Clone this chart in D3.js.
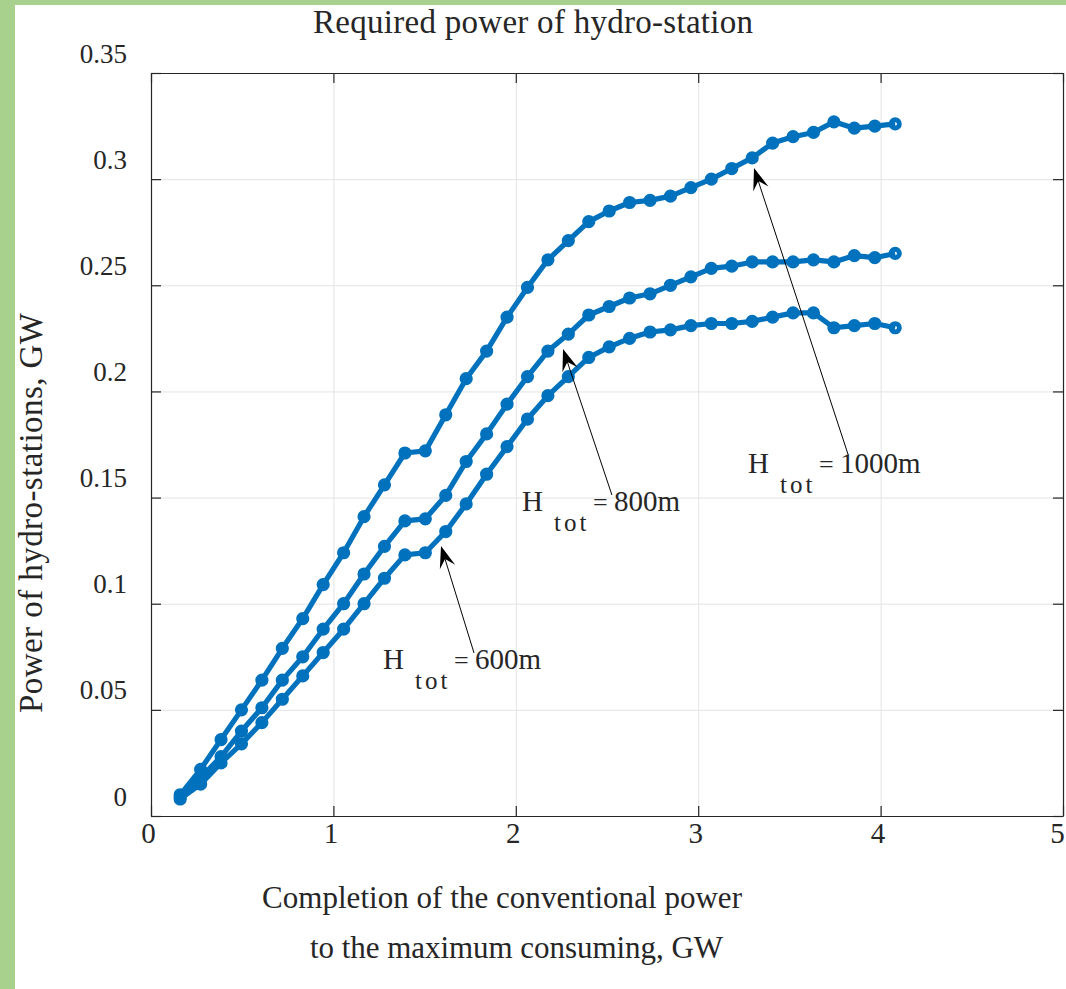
<!DOCTYPE html>
<html>
<head>
<meta charset="utf-8">
<script src="https://cdn.jsdelivr.net/npm/d3@7"></script>
<style>
  html, body { margin: 0; padding: 0; background: #fff; }
  svg { display: block; }
  text { font-family: "Liberation Serif", "Times New Roman", serif; fill: #262626; }
</style>
</head>
<body>
<div id="chart"></div>
<script>
// Required power of hydro-station – three head variants

const xValues = [0.16, 0.272, 0.384, 0.496, 0.608, 0.72, 0.832, 0.944, 1.056, 1.168, 1.28, 1.392,
  1.504, 1.616, 1.728, 1.84, 1.952, 2.064, 2.176, 2.288, 2.4, 2.512, 2.624, 2.736,
  2.848, 2.96, 3.072, 3.184, 3.296, 3.408, 3.52, 3.632, 3.744, 3.856, 3.968, 4.08];

const power1000 = [0.010, 0.022, 0.036, 0.050, 0.064, 0.079, 0.093, 0.109, 0.124, 0.141, 0.156, 0.171,
  0.172, 0.189, 0.206, 0.219, 0.235, 0.249, 0.262, 0.271, 0.280, 0.285, 0.289, 0.290,
  0.292, 0.296, 0.300, 0.305, 0.310, 0.317, 0.320, 0.322, 0.327, 0.324, 0.325, 0.326];

const power800 = [0.009, 0.018, 0.028, 0.040, 0.051, 0.064, 0.075, 0.088, 0.100, 0.114, 0.127, 0.139,
  0.140, 0.151, 0.167, 0.180, 0.194, 0.207, 0.219, 0.227, 0.236, 0.240, 0.244, 0.246,
  0.250, 0.254, 0.258, 0.259, 0.261, 0.261, 0.261, 0.262, 0.261, 0.264, 0.263, 0.265];

const power600 = [0.008, 0.015, 0.025, 0.034, 0.044, 0.055, 0.066, 0.077, 0.088, 0.100, 0.112, 0.123,
  0.124, 0.134, 0.147, 0.161, 0.174, 0.187, 0.198, 0.207, 0.216, 0.221, 0.225, 0.228,
  0.229, 0.231, 0.232, 0.232, 0.233, 0.235, 0.237, 0.237, 0.230, 0.231, 0.232, 0.230];

const xTicks = [0, 1, 2, 3, 4, 5];
const xTickLabels = ['0', '1', '2', '3', '4', '5'];
const yTicks = [0, 0.05, 0.1, 0.15, 0.2, 0.25, 0.3, 0.35];
const yTickLabels = ['0', '0.05', '0.1', '0.15', '0.2', '0.25', '0.3', '0.35'];

// annotation: label value, text anchor (data units), arrow tail and head (data units)
const noteLabels = ['600m', '800m', '1000m'];
const noteText = [[1.272, 0.0692], [2.034, 0.1437], [3.273, 0.1616]];
const noteTail = [[1.771, 0.0768], [2.527, 0.1512], [3.821, 0.1705]];
const noteHead = [[1.590, 0.1272], [2.259, 0.2200], [3.306, 0.3052]];

const W = 1066, H = 989;
const plot = { left: 151, right: 1063, top: 73, bottom: 816 };
const blue = '#0072BD';
const axisColor = '#262626';

const svg = d3.select('#chart').append('svg')
  .attr('width', W)
  .attr('height', H);

// page frame (green strips on top and left)
svg.append('rect').attr('x', 0).attr('y', 0).attr('width', W).attr('height', H).attr('fill', '#fff');
svg.append('rect').attr('x', 0).attr('y', 0).attr('width', W).attr('height', 5).attr('fill', '#a9d18e');
svg.append('rect').attr('x', 0).attr('y', 0).attr('width', 15).attr('height', H).attr('fill', '#a9d18e');

const x = d3.scaleLinear().domain([0, 5]).range([plot.left, plot.right]);
const y = d3.scaleLinear().domain([0, 0.35]).range([plot.bottom, plot.top]);
const plotW = plot.right - plot.left;
const plotH = plot.bottom - plot.top;

// Grid
const grid = svg.append('g').attr('class', 'grid');
grid.append('g')
  .attr('transform', `translate(0,${plot.bottom})`)
  .call(d3.axisBottom(x).tickValues(xTicks.slice(1, -1)).tickSize(-plotH).tickFormat(''))
  .call(g => g.select('.domain').remove());
grid.append('g')
  .attr('transform', `translate(${plot.left},0)`)
  .call(d3.axisLeft(y).tickValues(yTicks.slice(1, -1)).tickSize(-plotW).tickFormat(''))
  .call(g => g.select('.domain').remove());
grid.selectAll('line').attr('stroke', '#e3e3e3').attr('stroke-width', 1);

// Axes (box with inward ticks on all four sides)
const xAxis = svg.append('g')
  .attr('transform', `translate(0,${plot.bottom})`)
  .call(d3.axisBottom(x).tickValues(xTicks).tickSizeInner(-10).tickSizeOuter(0).tickPadding(0)
    .tickFormat((d, i) => xTickLabels[i]));
xAxis.selectAll('text')
  .attr('y', 27).attr('dy', 0)
  .attr('dx', (d, i) => i === xTicks.length - 1 ? -6 : -3)
  .style('font-size', '29px').style('font-family', '"Liberation Serif", serif').attr('fill', axisColor);

const yAxis = svg.append('g')
  .attr('transform', `translate(${plot.left},0)`)
  .call(d3.axisLeft(y).tickValues(yTicks).tickSizeInner(-10).tickSizeOuter(0).tickPadding(24)
    .tickFormat((d, i) => yTickLabels[i]));
yAxis.selectAll('text')
  .attr('dy', 0).attr('y', -11)
  .style('font-size', '27px').style('font-family', '"Liberation Serif", serif').attr('fill', axisColor);

svg.append('g')
  .attr('transform', `translate(0,${plot.top})`)
  .call(d3.axisTop(x).tickValues(xTicks).tickSizeInner(-10).tickSizeOuter(0).tickFormat(''));
svg.append('g')
  .attr('transform', `translate(${plot.right},0)`)
  .call(d3.axisRight(y).tickValues(yTicks).tickSizeInner(-10).tickSizeOuter(0).tickFormat(''));

svg.selectAll('.domain, .tick line').filter(function () {
  return !this.closest('.grid');
}).attr('stroke', axisColor).attr('stroke-width', 1.2);

// Series
const series = [power600, power800, power1000];
const line = d3.line()
  .x((d, i) => x(xValues[i]))
  .y(d => y(d));

series.forEach(vals => {
  svg.append('path')
    .datum(vals)
    .attr('d', line)
    .attr('fill', 'none')
    .attr('stroke', blue)
    .attr('stroke-width', 5.2)
    .attr('stroke-linejoin', 'round');

  svg.append('g')
    .selectAll('circle')
    .data(vals)
    .join('circle')
    .attr('cx', (d, i) => x(xValues[i]))
    .attr('cy', d => y(d))
    .attr('r', 4.2)
    .attr('fill', 'none')
    .attr('stroke', blue)
    .attr('stroke-width', 4.8);
});

// Annotations: arrows + H_tot labels
noteLabels.forEach((lab, i) => {
  const tx = x(noteTail[i][0]), ty = y(noteTail[i][1]);
  const hx = x(noteHead[i][0]), hy = y(noteHead[i][1]);
  const ang = Math.atan2(hy - ty, hx - tx) * 180 / Math.PI;
  const L = 22, hw = 8;

  svg.append('line')
    .attr('x1', tx).attr('y1', ty)
    .attr('x2', hx - (L * 0.6) * Math.cos(ang * Math.PI / 180))
    .attr('y2', hy - (L * 0.6) * Math.sin(ang * Math.PI / 180))
    .attr('stroke', '#000')
    .attr('stroke-width', 1);

  svg.append('path')
    .attr('d', `M0,0 L${-L},${-hw} L${-L * 0.62},0 L${-L},${hw} Z`)
    .attr('transform', `translate(${hx},${hy}) rotate(${ang})`)
    .attr('fill', '#000');

  const bx = x(noteText[i][0]), by = y(noteText[i][1]);
  const g = svg.append('g').attr('transform', `translate(${bx},${by})`);
  g.append('text').attr('x', 0).attr('y', 0)
    .style('font-size', '29px').attr('fill', '#000').text('H');
  g.append('text').attr('x', 32).attr('y', 20)
    .style('font-size', '25px').style('letter-spacing', '3px').attr('fill', '#000').text('tot');
  g.append('text').attr('x', 71).attr('y', 0)
    .style('font-size', '26px').attr('fill', '#000').text('=');
  g.append('text').attr('x', 92).attr('y', 0)
    .style('font-size', '29px').attr('fill', '#000').text(lab);
});

// Titles
svg.append('text')
  .attr('x', 533).attr('y', 33)
  .attr('text-anchor', 'middle')
  .attr('textLength', 440).attr('lengthAdjust', 'spacing')
  .style('font-size', '33px').attr('fill', '#000')
  .text('Required power of hydro-station');

svg.append('text')
  .attr('x', 502).attr('y', 908)
  .attr('text-anchor', 'middle')
  .attr('textLength', 480).attr('lengthAdjust', 'spacing')
  .style('font-size', '31px')
  .text('Completion of the conventional power');

svg.append('text')
  .attr('x', 516.5).attr('y', 958)
  .attr('text-anchor', 'middle')
  .attr('textLength', 413).attr('lengthAdjust', 'spacing')
  .style('font-size', '31px')
  .text('to the maximum consuming, GW');

svg.append('text')
  .attr('transform', 'translate(42,513) rotate(-90)')
  .attr('text-anchor', 'middle')
  .attr('textLength', 400).attr('lengthAdjust', 'spacing')
  .style('font-size', '33px')
  .text('Power of hydro-stations, GW');
</script>
</body>
</html>
